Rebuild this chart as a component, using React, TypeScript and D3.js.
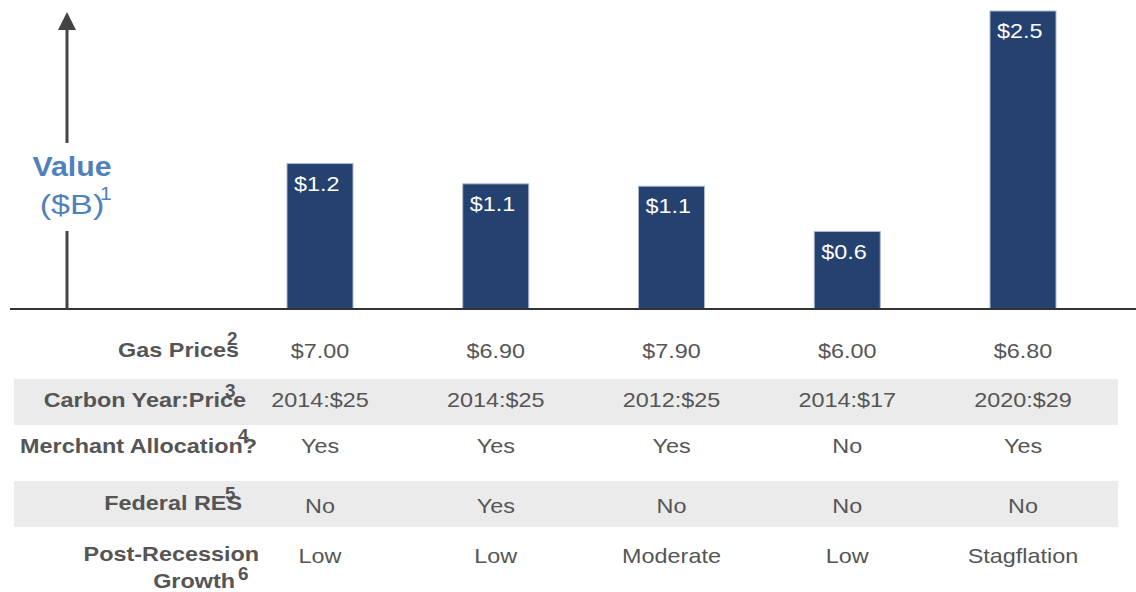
import React from "react";
import * as d3 from "d3";

const scenarios = ["S1", "S2", "S3", "S4", "S5"];
const values = [1.22, 1.05, 1.03, 0.65, 2.5];
const valueLabels = ["$1.2", "$1.1", "$1.1", "$0.6", "$2.5"];

const rowLabels = ["Gas Prices", "Carbon Year:Price", "Merchant Allocation?", "Federal RES", "Post-Recession"];
const rowNotes = ["2", "3", "4", "5", "6"];
const gasPrices = ["$7.00", "$6.90", "$7.90", "$6.00", "$6.80"];
const carbon = ["2014:$25", "2014:$25", "2012:$25", "2014:$17", "2020:$29"];
const merchant = ["Yes", "Yes", "Yes", "No", "Yes"];
const federalRes = ["No", "Yes", "No", "No", "No"];
const growth = ["Low", "Low", "Moderate", "Low", "Stagflation"];

const W = 1136;
const H = 592;
const BASE = 309;
const TEXT = "#555555";
const BLUE = "#4f81bd";
const FONT = "'Liberation Sans', Arial, sans-serif";
const SX = 1.17;

function T(props: {
  x: number;
  y: number;
  sx?: number;
  anchor?: string;
  size: number;
  bold?: boolean;
  fill: string;
  children: React.ReactNode;
}) {
  const { x, y, sx = SX, anchor = "start", size, bold, fill, children } = props;
  return (
    <text
      transform={`translate(${x},${y}) scale(${sx},1)`}
      textAnchor={anchor}
      fontSize={size}
      fontWeight={bold ? "bold" : "normal"}
      fill={fill}
    >
      {children}
    </text>
  );
}

export default function App() {
  const x = d3.scalePoint<string>().domain(scenarios).range([320, 1023]);
  const y = d3.scaleLinear().domain([0, 2.5]).range([BASE, 11]);
  const barW = 66;

  const rows = [gasPrices, carbon, merchant, federalRes, growth];
  const labelEnds = [239, 246, 257, 242, 259];
  const rowBaselines = [357, 407, 453, 510, 561];
  const valueBaselines = [358, 407, 453, 513, 563];
  const notePos = [
    [227, 345],
    [225, 397],
    [238, 442],
    [225, 500],
    [238, 580],
  ];
  const shaded = [
    [379, 425],
    [481, 527],
  ];

  return (
    <svg
      width={W}
      height={H}
      style={{ position: "absolute", left: 0, top: 0, fontFamily: FONT }}
    >
      <rect x={0} y={0} width={W} height={H} fill="#ffffff" />
      {shaded.map(([a, b], i) => (
        <rect key={i} x={14} y={a} width={1104} height={b - a} fill="#ebebeb" />
      ))}

      {/* bars */}
      {scenarios.map((s, i) => {
        const cx = x(s)!;
        const top = y(values[i]);
        return (
          <g key={s}>
            <rect
              x={cx - barW / 2}
              y={top}
              width={barW}
              height={BASE - top}
              fill="#24416f"
              stroke="#a9b8cf"
              strokeWidth={1}
            />
            <T x={cx - barW / 2 + 7} y={top + 27} size={20} fill="#ffffff">
              {valueLabels[i]}
            </T>
          </g>
        );
      })}

      {/* baseline */}
      <line x1={10} x2={W} y1={BASE} y2={BASE} stroke="#333333" strokeWidth={2} />

      {/* y arrow */}
      <line x1={67} x2={67} y1={BASE} y2={231} stroke="#444444" strokeWidth={3} />
      <line x1={67} x2={67} y1={143} y2={26} stroke="#444444" strokeWidth={3} />
      <path d="M67,12 L58,30 L76,30 Z" fill="#444444" />
      <T x={72} y={176} sx={1.08} anchor="middle" size={28} bold fill={BLUE}>
        Value
      </T>
      <T x={72} y={214} sx={1.22} anchor="middle" size={28} fill={BLUE}>
        ($B)
      </T>
      <T x={100} y={200} sx={1.1} size={19} fill={BLUE}>
        1
      </T>

      {/* table rows */}
      {rowLabels.map((lab, r) => (
        <g key={lab}>
          <T x={labelEnds[r]} y={rowBaselines[r]} anchor="end" size={20} bold fill={TEXT}>
            {lab}
          </T>
          {r === 4 && (
            <T x={235} y={588} anchor="end" size={20} bold fill={TEXT}>
              Growth
            </T>
          )}
          <T x={notePos[r][0]} y={notePos[r][1]} sx={1.05} size={18} bold fill={TEXT}>
            {rowNotes[r]}
          </T>
          {rows[r].map((v, i) => (
            <T key={i} x={x(scenarios[i])!} y={valueBaselines[r]} anchor="middle" size={20} fill={TEXT}>
              {v}
            </T>
          ))}
        </g>
      ))}
    </svg>
  );
}
